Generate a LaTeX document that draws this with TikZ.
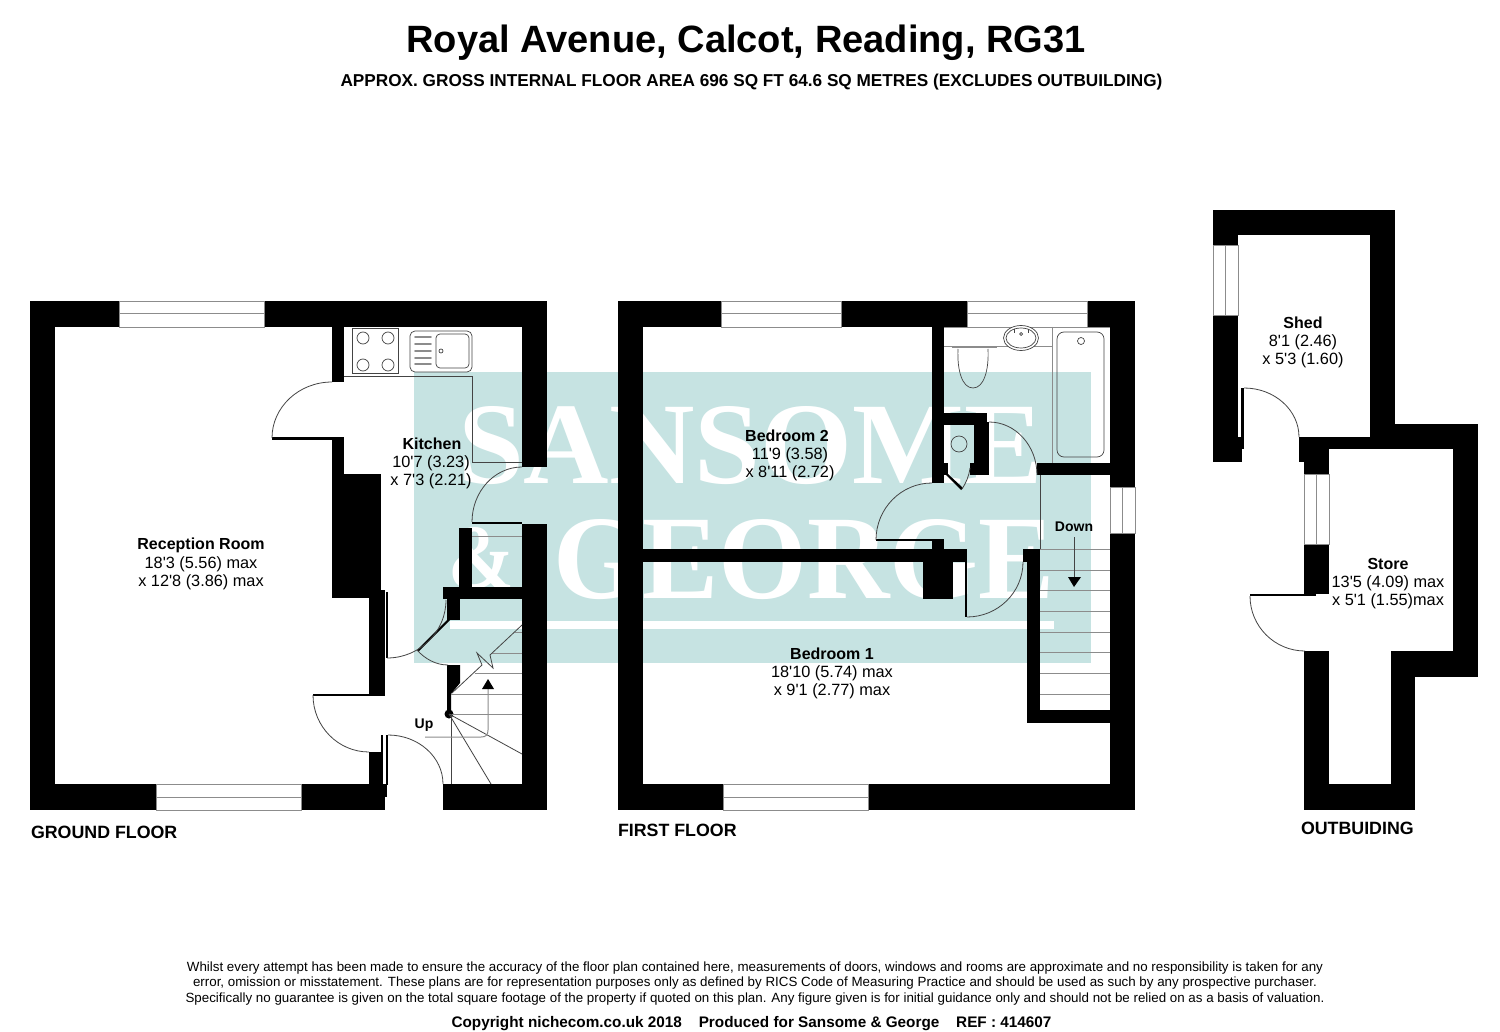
\documentclass[tikz,border=0pt]{standalone}
\usepackage{fontspec}
\usepackage{graphicx}
\usetikzlibrary{calc}
\newfontfamily\arl{Liberation Sans}
\newfontfamily\tms{Liberation Serif}
\definecolor{wm}{HTML}{C6E3E2}
\definecolor{thinc}{HTML}{444444}
\definecolor{grayc}{HTML}{8C8C8C}
\tikzset{
  wallfill/.style={fill=black},
  thinline/.style={draw=thinc,line width=0.8pt},
  stairline/.style={draw=grayc,line width=1pt},
  fixture/.style={draw=thinc,line width=0.7pt},
  winbox/.style={draw=grayc,fill=white,line width=0.9pt},
  lab/.style={anchor=base,inner sep=0pt,outer sep=0pt,font=\arl\fontsize{16.3}{18}\selectfont,text=black},
  blab/.style={lab,font=\arl\bfseries\fontsize{16}{18}\selectfont},
  captext/.style={anchor=base west,inner sep=0pt,outer sep=0pt,font=\arl\bfseries\fontsize{17.8}{20}\selectfont,text=black},
  foot/.style={anchor=base,inner sep=0pt,outer sep=0pt,font=\arl\fontsize{13.35}{15}\selectfont,text=black},
  wmtext/.style={inner sep=0pt,anchor=north west,text=white},
}
\newcommand\wl[4]{\fill[wallfill] (#1,#2) rectangle (#3,#4);}
\newcommand\qarc[6]{\draw[thinline] (#1,#2) .. controls ($(#1,#2)!0.552!(#3,#4)$) and ($(#5,#6)!0.552!(#3,#4)$) .. (#5,#6);}
\newcommand\hwin[4]{\draw[winbox] (#1,#2) rectangle (#3,#4); \draw[stairline] (#1,{(#2+#4)/2}) -- (#3,{(#2+#4)/2});}
\newcommand\vwin[4]{\draw[winbox] (#1,#2) rectangle (#3,#4); \draw[stairline] ({(#1+#3)/2},#2) -- ({(#1+#3)/2},#4);}
\begin{document}
\begin{tikzpicture}[x=1pt,y=-1pt]
\useasboundingbox (0,0) rectangle (1500,1032);
\fill[white] (0,0) rectangle (1500,1032);
% watermark
\fill[wm] (414,372) rectangle (1091,663);
\node[wmtext] (wmone) at (458,406) {\resizebox{585pt}{77pt}{\tms\bfseries SANSOME}};
\node[wmtext] (wmamp) at (448,527) {\resizebox{66pt}{61pt}{\tms\bfseries \&}};
\node[wmtext] (wmtwo) at (553,519) {\resizebox{501pt}{79pt}{\tms\bfseries GEORGE}};
\fill[white] (450,621) rectangle (1054,629);

% ---- ground floor walls
\wl{30}{301}{547}{327}
\wl{30}{301}{55}{810}
\wl{30}{784}{385}{810}
\wl{381}{784}{387}{797}
\wl{443}{784}{547}{810}
\wl{522}{301}{547}{467}
\wl{522}{524}{547}{810}
\wl{332}{327}{344}{382}
\wl{332}{438}{344}{475}
\wl{332}{474}{381}{598}
\wl{369}{597}{381}{694}
\wl{381}{590}{385}{694}
\wl{386}{592}{388}{658}
\wl{369}{752}{381}{785}
\wl{381}{735}{383}{785}
\wl{386}{735}{388}{785}
\wl{272}{437}{344}{439.5}
\wl{472}{522}{522}{524}
\wl{313}{694}{385}{696}
\wl{459}{528}{472}{588}
\wl{443}{587}{522}{599}
\wl{447}{598}{460}{620}
\fill[wallfill] (417,650) -- (448,619) -- (450,620) -- (419,651) -- cycle;
\fill[wallfill] (447,665) -- (460,665) -- (460,683) -- (451,694) -- (451,714) -- (447,714) -- cycle;
\fill[wallfill] (449,714) circle (4.5);
\hwin{119}{301}{264}{327}
\hwin{156}{784}{301}{810}

% kitchen fittings
\draw[thinline] (344,376) -- (472,376) -- (472,462) -- (522,462);
\draw[thinline,draw=grayc] (472,536) -- (522,536);
\draw[fixture] (352,328) rectangle (398,373);
\foreach \cx/\cy in {363/338,388/338,363/365,388/365} \draw[fixture] (\cx,\cy) circle (6);
\draw[fixture,rounded corners=5pt] (410,331) rectangle (472,372);
\draw[fixture,rounded corners=4pt] (436,334) rectangle (469,368);
\draw[fixture] (441,351) circle (2);
\foreach \gy in {337,344,351,358,364} \draw[draw=grayc,line width=1.6pt,line cap=round] (415,\gy) -- (431,\gy);

% ground floor doors
\qarc{332}{382}{272}{382}{272}{438}
\qarc{522}{467}{472}{467}{472}{522}
\qarc{387}{658}{446}{658}{446}{600}
\draw[thinline] (448,665) .. controls (436,665) and (425,659) .. (417,650);
\qarc{313}{695}{313}{752}{369}{752}
\qarc{388}{735}{443}{735}{443}{784}

% ground stairs
\foreach \sy/\sx in {714/449,694/451,673/475,653/491,632/515} \draw[stairline] (\sx,\sy) -- (522,\sy);
\draw[thinline] (522,625) -- (490,655) -- (493,668) -- (477,653) -- (482,665) -- (452,693);
\draw[thinline] (449,714) -- (522,754);
\draw[thinline] (449,714) -- (491,784);
\draw[thinline] (451,714) -- (451,784);
\draw[stairline] (425,737) -- (481,737) .. controls (486,737) and (488,735) .. (488,730) -- (488,688);
\fill[black] (482,689) -- (494,689) -- (488,679) -- cycle;

% ---- first floor walls
\wl{618}{301}{1135}{327}
\wl{618}{301}{643}{810}
\wl{618}{784}{1135}{810}
\wl{1110}{301}{1135}{810}
\wl{932}{327}{944}{483}
\wl{944}{413}{987}{425}
\wl{974}{413}{987}{475}
\wl{970}{463}{989}{475}
\wl{944}{463}{948}{475}
\wl{987}{422}{989}{475}
\fill[wallfill] (946,475) -- (948,474) -- (963,488) -- (961,490) -- cycle;
\wl{1037}{463}{1110}{475}
\wl{643}{549}{967}{562}
\wl{923}{560}{953}{599}
\wl{932}{539}{944}{550}
\wl{876}{539}{933}{541}
\wl{965}{561}{967}{617}
\wl{1023}{549}{1040}{562}
\wl{1027}{561}{1040}{723}
\wl{1027}{710}{1111}{723}
\hwin{721}{301}{841}{327}
\hwin{967}{301}{1087}{327}
\hwin{723}{784}{868}{810}
\vwin{1110}{487}{1135}{533}

% bathroom
\draw[draw=grayc,line width=0.8pt] (944,327) -- (1110,327);
\draw[draw=grayc,line width=1pt] (944,347) -- (1052,347);
\draw[draw=grayc,line width=1pt] (1052,327) -- (1052,463);
\draw[draw=grayc,line width=1.8pt] (952,347) -- (997,347);
\draw[fixture] (958,349) .. controls (957,370) and (962,388) .. (973,388) .. controls (984,388) and (989,370) .. (988,349);
\draw[fixture,fill=white] (1021,338) ellipse (17.5 and 12.5);
\draw[fixture] (1021,338) ellipse (15 and 10);
\draw[fixture] (1021,334) circle (1.5);
\draw[fixture] (1014,329) -- (1014,333);
\draw[fixture] (1028,329) -- (1028,333);
\draw[fixture,rounded corners=7pt] (1057,332) rectangle (1104,457);
\draw[fixture] (1081,341) circle (3.5);
\draw[fixture] (959,444) circle (8);
\draw[thinline] (1040,475) -- (1040,549);

% first floor doors
\qarc{932}{483}{876}{483}{876}{540}
\qarc{989}{422}{1037}{422}{1037}{475}
\qarc{967}{617}{1023}{617}{1023}{562}
\draw[thinline] (962,489) .. controls (966,483) and (969,476) .. (970,468);

% first stairs
\foreach \sy in {549,570,590,611,632,652,673,694} \draw[stairline] (1040,\sy) -- (1110,\sy);
\draw[thinline] (1074,537) -- (1074,580);
\fill[black] (1068,577) -- (1081,577) -- (1074,587) -- cycle;

% ---- outbuilding
\wl{1213}{210}{1395}{235}
\wl{1213}{210}{1238}{437}
\wl{1213}{437}{1242}{462}
\wl{1241}{388}{1244}{449}
\wl{1370}{210}{1395}{437}
\wl{1370}{424}{1478}{449}
\wl{1299}{437}{1370}{449}
\wl{1453}{424}{1478}{677}
\wl{1391}{651}{1478}{677}
\wl{1391}{651}{1415}{810}
\wl{1299}{437}{1328}{462}
\wl{1304}{437}{1329}{594}
\wl{1250}{594}{1316}{596}
\wl{1304}{651}{1329}{810}
\wl{1304}{784}{1415}{810}
\vwin{1213}{245}{1238}{315}
\vwin{1304}{474}{1329}{544}
\qarc{1244}{388}{1299}{388}{1299}{437}
\qarc{1250}{596}{1250}{651}{1305}{651}

% ---- texts
\node[anchor=base,inner sep=0pt] (title) at (746,53) {\arl\bfseries\fontsize{38.05}{40}\selectfont Royal Avenue, Calcot, Reading, RG31};
\node[anchor=base,inner sep=0pt] (subtitle) at (751.5,87) {\arl\bfseries\fontsize{17.2}{19}\selectfont APPROX. GROSS INTERNAL FLOOR AREA 696 SQ FT 64.6 SQ METRES (EXCLUDES OUTBUILDING)};

\node[blab] (recA) at (201,549.5) {Reception Room};
\node[lab] (recB) at (201,568) {18'3 (5.56) max};
\node[lab] (recC) at (201,586) {x 12'8 (3.86) max};
\node[blab] (kitA) at (432,449.5) {Kitchen};
\node[lab] (kitB) at (431,467.5) {10'7 (3.23)};
\node[lab] (kitC) at (431,485.5) {x 7'3 (2.21)};
\node[blab] (bedtA) at (787,441.5) {Bedroom 2};
\node[lab] (bedtB) at (790,459) {11'9 (3.58)};
\node[lab] (bedtC) at (790,477) {x 8'11 (2.72)};
\node[blab] (bedoA) at (832,659.5) {Bedroom 1};
\node[lab] (bedoB) at (832,677) {18'10 (5.74) max};
\node[lab] (bedoC) at (832,695) {x 9'1 (2.77) max};
\node[blab] (shedA) at (1303,328.5) {Shed};
\node[lab] (shedB) at (1303,346.5) {8'1 (2.46)};
\node[lab] (shedC) at (1303,364.5) {x 5'3 (1.60)};
\node[blab] (storeA) at (1388,569.5) {Store};
\node[lab] (storeB) at (1388,587.5) {13'5 (4.09) max};
\node[lab] (storeC) at (1388,605.5) {x 5'1 (1.55)max};
\node[anchor=base,inner sep=0pt] (up) at (424,728) {\arl\bfseries\fontsize{14}{16}\selectfont Up};
\node[anchor=base,inner sep=0pt] (down) at (1074,531) {\arl\bfseries\fontsize{14}{16}\selectfont Down};

\node[captext] (gf) at (31,838) {GROUND FLOOR};
\node[captext] (ff) at (618,836) {FIRST FLOOR};
\node[captext] (ob) at (1301,834) {OUTBUIDING};

\node[foot] (fa) at (755,971) {Whilst every attempt has been made to ensure the accuracy of the floor plan contained here, measurements of doors, windows and rooms are approximate and no responsibility is taken for any};
\node[foot] (fb) at (755,986) {error, omission or misstatement. These plans are for representation purposes only as defined by RICS Code of Measuring Practice and should be used as such by any prospective purchaser.};
\node[foot] (fc) at (755,1002) {Specifically no guarantee is given on the total square footage of the property if quoted on this plan. Any figure given is for initial guidance only and should not be relied on as a basis of valuation.};
\node[anchor=base,inner sep=0pt] (fd) at (751.5,1027) {\arl\bfseries\fontsize{15.3}{17}\selectfont Copyright nichecom.co.uk 2018\hspace{1.1em}Produced for Sansome \& George\hspace{1.1em}REF : 414607};
\end{tikzpicture}
\end{document}
